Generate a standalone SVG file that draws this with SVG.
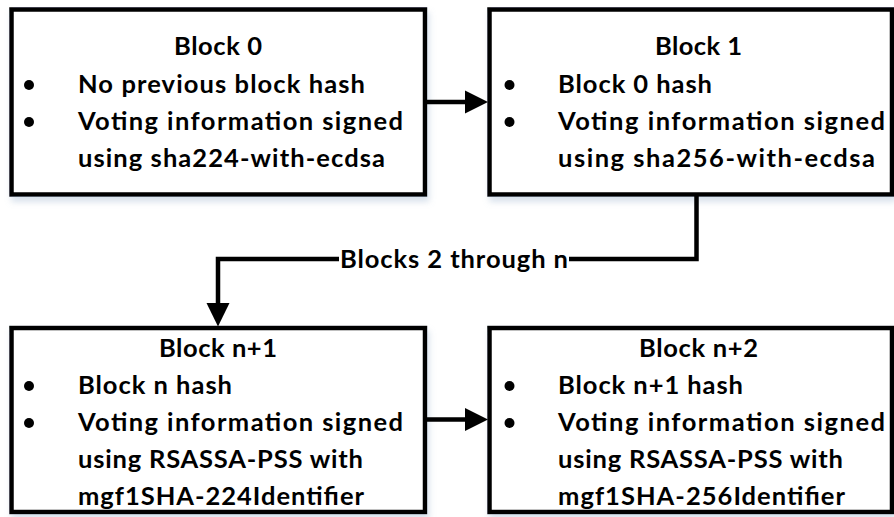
<svg xmlns="http://www.w3.org/2000/svg" width="894" height="517" viewBox="0 0 894 517">
  <style>
    .box { fill: #ffffff; stroke: #000000; stroke-width: 4.5; filter: url(#shadow); }
    .txt { font-family: Lato, "Open Sans", "Liberation Sans", sans-serif; font-weight: bold; font-size: 25.5px; fill: #000000; }
    .title { text-anchor: middle; }
    .dot { fill: #000000; }
    .wire { fill: none; stroke: #000000; stroke-width: 4.5; }
    .head { fill: #000000; }
  </style>
  <defs>
    <filter id="shadow" x="-5%" y="-5%" width="115%" height="125%">
      <feDropShadow dx="2" dy="5" stdDeviation="3" flood-color="#8fa8c8" flood-opacity="0.35"/>
    </filter>
  </defs>
  <rect width="894" height="517" fill="#ffffff"/>

  <!-- Block 0 -->
  <g id="block0">
    <rect class="box" x="11.5" y="9.5" width="413.5" height="185"/>
    <text class="txt title" x="218" y="55" textLength="88">Block 0</text>
    <circle class="dot" cx="29" cy="85" r="5"/>
    <text class="txt" x="78" y="93" textLength="287">No previous block hash</text>
    <circle class="dot" cx="29" cy="122" r="5"/>
    <text class="txt" x="78" y="130" textLength="325">Voting information signed</text>
    <text class="txt" x="78" y="167" textLength="307">using sha224-with-ecdsa</text>
  </g>

  <!-- Block 1 -->
  <g id="block1">
    <rect class="box" x="489.5" y="9.5" width="402.5" height="185"/>
    <text class="txt title" x="698.5" y="55" textLength="87">Block 1</text>
    <circle class="dot" cx="509.5" cy="85" r="5"/>
    <text class="txt" x="558" y="93" textLength="154">Block 0 hash</text>
    <circle class="dot" cx="509.5" cy="122" r="5"/>
    <text class="txt" x="558" y="130" textLength="327">Voting information signed</text>
    <text class="txt" x="558" y="167" textLength="317">using sha256-with-ecdsa</text>
  </g>

  <!-- Block n+1 -->
  <g id="blockn1">
    <rect class="box" x="11.5" y="328" width="413.5" height="184"/>
    <text class="txt title" x="218" y="357" textLength="118">Block n+1</text>
    <circle class="dot" cx="29" cy="386" r="5"/>
    <text class="txt" x="78" y="394" textLength="154">Block n hash</text>
    <circle class="dot" cx="29" cy="423" r="5"/>
    <text class="txt" x="78" y="431" textLength="325">Voting information signed</text>
    <text class="txt" x="78" y="468" textLength="285">using RSASSA-PSS with</text>
    <text class="txt" x="78" y="505" textLength="286">mgf1SHA-224Identifier</text>
  </g>

  <!-- Block n+2 -->
  <g id="blockn2">
    <rect class="box" x="489.5" y="328" width="402.5" height="184"/>
    <text class="txt title" x="698.5" y="357" textLength="119">Block n+2</text>
    <circle class="dot" cx="509.5" cy="386" r="5"/>
    <text class="txt" x="558" y="394" textLength="185">Block n+1 hash</text>
    <circle class="dot" cx="509.5" cy="423" r="5"/>
    <text class="txt" x="558" y="431" textLength="327">Voting information signed</text>
    <text class="txt" x="558" y="468" textLength="285">using RSASSA-PSS with</text>
    <text class="txt" x="558" y="505" textLength="287">mgf1SHA-256Identifier</text>
  </g>

  <!-- Connectors -->
  <g id="connectors">
    <line class="wire" x1="425" y1="102" x2="467" y2="102"/>
    <polygon class="head" points="465,90.5 488,102 465,113.5"/>

    <path class="wire" d="M696.5,196 V259 H569"/>
    <path class="wire" d="M339,259 H218 V305"/>
    <polygon class="head" points="206.5,303 218,326.5 229.5,303"/>
    <text class="txt" x="340" y="268" textLength="228">Blocks 2 through n</text>

    <line class="wire" x1="425" y1="419.5" x2="467" y2="419.5"/>
    <polygon class="head" points="465,408 488,419.5 465,431"/>
  </g>
</svg>
